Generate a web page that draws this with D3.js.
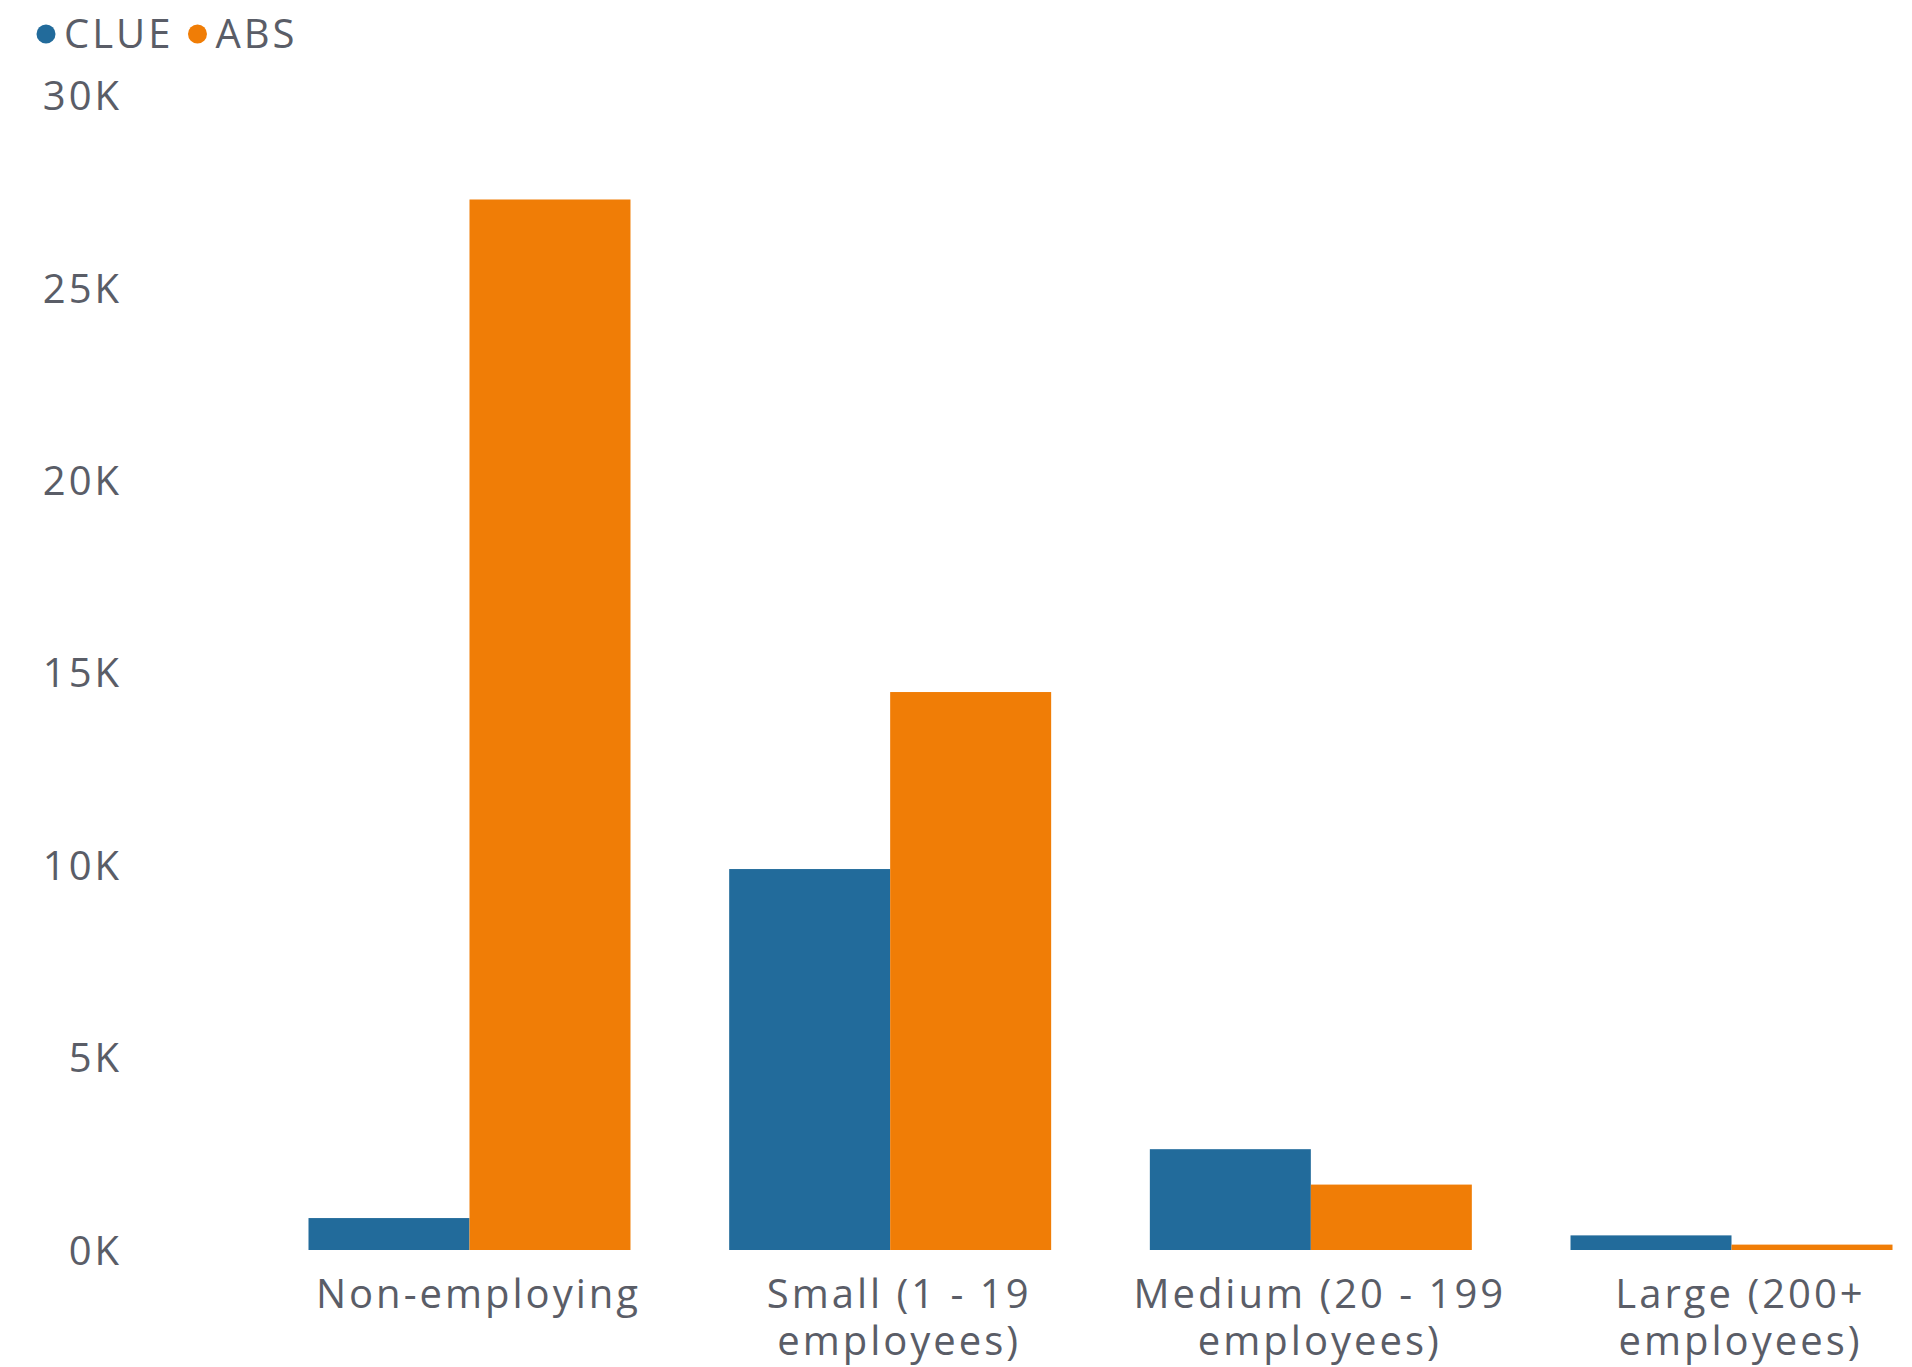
<!DOCTYPE html>
<html><head><meta charset="utf-8">
<script src="https://cdn.jsdelivr.net/npm/d3@7"></script>
<style>html,body{margin:0;padding:0;background:#fff;}svg{display:block;}</style>
</head><body>
<script>
const categories = ["Non-employing", "Small (1 - 19 employees)", "Medium (20 - 199 employees)", "Large (200+ employees)"];
const seriesNames = ["CLUE", "ABS"];
const clueValues = [830, 9900, 2620, 380];
const absValues = [27300, 14500, 1700, 140];
const yTicks = [0, 5000, 10000, 15000, 20000, 25000, 30000];
const yTickLabels = ["0K", "5K", "10K", "15K", "20K", "25K", "30K"];
const colors = {CLUE: "#226b9b", ABS: "#f07d06"};

const W = 1912, H = 1367;
const font = "'Open Sans', sans-serif";
const fontSize = 40;
const spacing = "3px";
const textColor = "#5a5d67";
const svg = d3.select("body").append("svg").attr("width", W).attr("height", H);

const x0 = d3.scaleBand().domain(categories).range([308.5, 1892.5]).paddingInner(0.2346).paddingOuter(0);
const x1 = d3.scaleBand().domain(seriesNames).range([0, x0.bandwidth()]).padding(0);
const y = d3.scaleLinear().domain([0, 30000]).range([1250, 95.6]);

const data = categories.map((c, i) => ({cat: c, values: [{k: "CLUE", v: clueValues[i]}, {k: "ABS", v: absValues[i]}]}));

const g = svg.append("g").selectAll("g").data(data).join("g")
  .attr("transform", d => `translate(${x0(d.cat)},0)`);
g.selectAll("rect").data(d => d.values).join("rect")
  .attr("x", d => x1(d.k)).attr("width", x1.bandwidth())
  .attr("y", d => y(d.v)).attr("height", d => y(0) - y(d.v))
  .attr("fill", d => colors[d.k]);

// y axis
const yAxis = d3.axisLeft(y).tickValues(yTicks).tickFormat((d, i) => yTickLabels[i]).tickSize(0).tickPadding(0);
const ya = svg.append("g").attr("transform", "translate(122,0)").call(yAxis);
ya.select(".domain").remove();
ya.selectAll("text").attr("font-family", font).attr("font-size", fontSize).attr("letter-spacing", spacing)
  .attr("fill", textColor).attr("dy", "0.35em");

// x axis
const xAxis = d3.axisBottom(x0).tickSize(0).tickPadding(0).tickFormat("");
const xa = svg.append("g").attr("transform", "translate(0,1250)").call(xAxis);
xa.select(".domain").remove();
xa.selectAll(".tick").each(function(d) {
  const parts = d.includes(" employees)") ? [d.replace(" employees)", ""), "employees)"] : [d];
  const t = d3.select(this).append("text").attr("text-anchor", "middle")
    .attr("font-family", font).attr("font-size", fontSize).attr("letter-spacing", spacing).attr("fill", textColor);
  parts.forEach((p, i) => t.append("tspan").attr("x", 9).attr("y", 58 + i * 47).text(p));
});

// legend
const legend = svg.append("g").attr("transform", "translate(0,34)");
let lx = 46;
seriesNames.forEach(s => {
  legend.append("circle").attr("cx", lx).attr("cy", 0).attr("r", 9.5).attr("fill", colors[s]);
  const t = legend.append("text").attr("x", lx + 18).attr("y", 0).attr("dy", "0.35em")
    .attr("font-family", font).attr("font-size", fontSize).attr("letter-spacing", spacing).attr("fill", textColor).text(s);
  lx += 18 + t.node().getComputedTextLength() + 24;
});
</script>
</body></html>
